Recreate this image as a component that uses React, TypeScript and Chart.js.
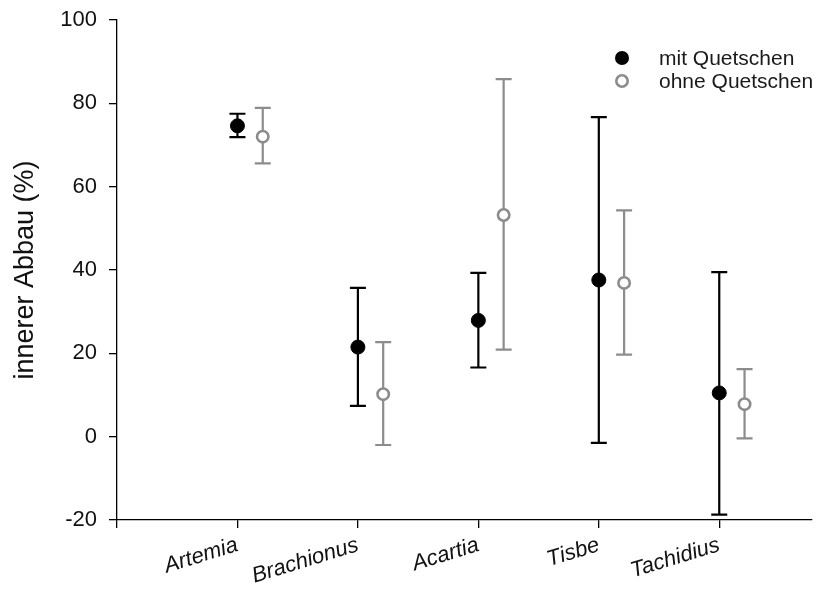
import React, { useEffect, useRef } from "react";
import { Chart, registerables } from "chart.js";

Chart.register(...registerables);

const categories = ["Artemia", "Brachionus", "Acartia", "Tisbe", "Tachidius"];
const mitMean = [74.6, 21.5, 27.9, 37.6, 10.5];
const mitLow = [71.9, 7.4, 16.6, -1.5, -18.7];
const mitHigh = [77.5, 35.7, 39.3, 76.7, 39.5];
const ohneMean = [72.0, 10.2, 53.2, 36.9, 7.8];
const ohneLow = [65.6, -2.0, 20.9, 19.7, -0.4];
const ohneHigh = [78.9, 22.7, 85.8, 54.3, 16.2];
const yTicks = [-20, 0, 20, 40, 60, 80, 100];
const legendLabels = ["mit Quetschen", "ohne Quetschen"];

const OFFSET = 0.21;
const BLACK = "#000000";
const GRAY = "#8c8c8c";
const FONT = "'Liberation Sans', Arial, sans-serif";

const errorBarPlugin = {
  id: "errorBars",
  beforeDatasetsDraw(chart: any) {
    const ctx = chart.ctx;
    const xs = chart.scales.x;
    const ys = chart.scales.y;
    const draw = (low: number[], high: number[], off: number, color: string) => {
      ctx.save();
      ctx.strokeStyle = color;
      ctx.lineWidth = 2.2;
      low.forEach((lo, i) => {
        const x = xs.getPixelForValue(i + 1 + off);
        const y1 = ys.getPixelForValue(lo);
        const y2 = ys.getPixelForValue(high[i]);
        ctx.beginPath();
        ctx.moveTo(x, y1);
        ctx.lineTo(x, y2);
        ctx.moveTo(x - 8, y1);
        ctx.lineTo(x + 8, y1);
        ctx.moveTo(x - 8, y2);
        ctx.lineTo(x + 8, y2);
        ctx.stroke();
      });
      ctx.restore();
    };
    draw(mitLow, mitHigh, 0, BLACK);
    draw(ohneLow, ohneHigh, OFFSET, GRAY);
  },
  afterDraw(chart: any) {
    const ctx = chart.ctx;
    ctx.save();
    const lx = 622;
    const ly = [58, 81];
    ctx.beginPath();
    ctx.arc(lx, ly[0], 7, 0, Math.PI * 2);
    ctx.fillStyle = BLACK;
    ctx.fill();
    ctx.beginPath();
    ctx.arc(lx, ly[1], 5.7, 0, Math.PI * 2);
    ctx.fillStyle = "#ffffff";
    ctx.fill();
    ctx.lineWidth = 2.6;
    ctx.strokeStyle = GRAY;
    ctx.stroke();
    ctx.fillStyle = "#1a1a1a";
    ctx.font = `21px ${FONT}`;
    ctx.textBaseline = "middle";
    ctx.textAlign = "left";
    ctx.fillText(legendLabels[0], 659, ly[0] + 1);
    ctx.fillText(legendLabels[1], 659, ly[1] + 1);
    ctx.restore();
  },
};

export default function App() {
  const ref = useRef<HTMLCanvasElement>(null);
  useEffect(() => {
    if (!ref.current) return;
    const chart = new Chart(ref.current, {
      type: "scatter",
      data: {
        datasets: [
          {
            label: legendLabels[0],
            data: mitMean.map((v, i) => ({ x: i + 1, y: v })),
            pointRadius: 7,
            pointBackgroundColor: BLACK,
            pointBorderColor: BLACK,
            pointBorderWidth: 1,
          },
          {
            label: legendLabels[1],
            data: ohneMean.map((v, i) => ({ x: i + 1 + OFFSET, y: v })),
            pointRadius: 5.7,
            pointBackgroundColor: "#ffffff",
            pointBorderColor: GRAY,
            pointBorderWidth: 2.6,
          },
        ],
      },
      options: {
        animation: false,
        responsive: false,
        maintainAspectRatio: false,
        layout: { padding: { top: 20, right: 19, left: 0, bottom: 0 } },
        plugins: { legend: { display: false }, tooltip: { enabled: false } },
        scales: {
          x: {
            type: "linear",
            min: 0,
            max: 5.77,
            afterBuildTicks: (axis: any) => {
              axis.ticks = [0, 1, 2, 3, 4, 5].map((v) => ({ value: v }));
            },
            afterFit: (axis: any) => {
              axis.height = 72;
              axis.paddingLeft = 0;
              axis.paddingRight = 0;
            },
            ticks: {
              autoSkip: false,
              maxRotation: 17,
              minRotation: 17,
              padding: 4,
              color: "#111111",
              font: { family: FONT, size: 22, style: "italic" },
              callback: (v: any) => (v >= 1 && v <= 5 ? categories[v - 1] : ""),
            },
            grid: { drawOnChartArea: false, drawTicks: true, tickLength: 8, color: BLACK, lineWidth: 1.3 },
            border: { display: true, color: BLACK, width: 1.3 },
          },
          y: {
            min: -20,
            max: 100,
            afterBuildTicks: (axis: any) => {
              axis.ticks = yTicks.map((v) => ({ value: v }));
            },
            afterFit: (axis: any) => {
              axis.width = 117;
              axis.paddingTop = 0;
              axis.paddingBottom = 0;
            },
            ticks: {
              padding: 12,
              color: "#111111",
              font: { family: FONT, size: 22 },
            },
            title: {
              display: true,
              text: "innerer Abbau (%)",
              color: "#111111",
              font: { family: FONT, size: 27 },
              padding: { top: 9, bottom: 4 },
            },
            grid: { drawOnChartArea: false, drawTicks: true, tickLength: 8, color: BLACK, lineWidth: 1.3 },
            border: { display: true, color: BLACK, width: 1.3 },
          },
        },
      },
      plugins: [errorBarPlugin],
    } as any);
    return () => chart.destroy();
  }, []);
  return (
    <div style={{ position: "fixed", left: 0, top: 0, width: 831, height: 592, background: "#fff" }}>
      <canvas ref={ref} width={831} height={592} style={{ width: 831, height: 592 }} />
    </div>
  );
}
